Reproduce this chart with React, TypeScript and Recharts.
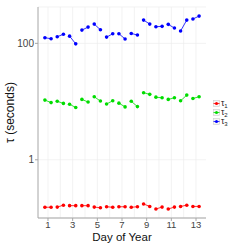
import { LineChart, Line, XAxis, YAxis, CartesianGrid, ReferenceLine } from 'recharts';

// one pair of samples per day (morning / afternoon)
const DAYS = [1, 2, 3, 4, 5, 6, 7, 8, 9, 10, 11, 12, 13];
const HALF = [-0.25, 0.25];

const TAU1 = [
  0.153, 0.153, 0.154, 0.166, 0.163, 0.163, 0.163, 0.163, 0.154, 0.15, 0.156, 0.153, 0.156,
  0.156, 0.153, 0.156, 0.174, 0.158, 0.143, 0.154, 0.143, 0.154, 0.158, 0.166, 0.158, 0.158,
];
const TAU2 = [
  10.6, 9.6, 10.1, 9.3, 9.0, 7.9, 10.9, 9.8, 12.1, 10.2, 9.1, 10.3, 9.4,
  8.1, 10.1, 8.2, 14.2, 13.3, 11.9, 11.6, 10.9, 11.6, 10.3, 12.9, 11.3, 12.1,
];
const TAU3 = [
  125, 120, 130, 143, 133, 98, 169, 190, 214, 171, 128, 146, 146,
  119, 148, 139, 251, 214, 193, 196, 212, 183, 163, 251, 262, 294,
];

const X_TICKS = [1, 3, 5, 7, 9, 11, 13];
const Y_TICKS = [1, 100];

const SERIES = [
  { key: 't1', sub: '1', color: '#ff0000' },
  { key: 't2', sub: '2', color: '#00dd00' },
  { key: 't3', sub: '3', color: '#0000ff' },
];

const data = DAYS.flatMap((d, i) => [
  ...HALF.map((h, j) => ({
    x: d + h,
    t1: TAU1[i * 2 + j],
    t2: TAU2[i * 2 + j],
    t3: TAU3[i * 2 + j],
  })),
  // break the line between days
  { x: d + 0.5, t1: null, t2: null, t3: null },
]);

const GRID = '#ececec';
const BORDER = '#a6a6a6';

function LegendBox() {
  return (
    <svg width={30} height={30} style={{ position: 'absolute', left: 212, top: 99 }}>
      {SERIES.map((s, i) => (
        <g key={s.key} transform={`translate(1, ${1 + i * 9})`}>
          <rect x={0.5} y={0.5} width={6} height={6} fill="#f5f5f5" stroke="#cccccc" strokeWidth={0.6} />
          <line x1={0.5} x2={6.5} y1={3.5} y2={3.5} stroke={s.color} strokeWidth={0.8} />
          <circle cx={3.5} cy={3.5} r={1.5} fill={s.color} />
          <text x={8} y={6} fontSize={8.5} fill="#222">
            τ<tspan fontSize={6} dy={2}>{s.sub}</tspan>
          </text>
        </g>
      ))}
    </svg>
  );
}

export default function App() {
  return (
    <div style={{ position: 'absolute', left: 0, top: 0, width: 245, height: 245, background: '#fff', fontFamily: '"Liberation Sans", Arial, sans-serif' }}>
      <LineChart width={245} height={245} data={data} margin={{ top: 7, right: 39, bottom: 0, left: 0 }}>
        <CartesianGrid horizontal vertical={false} stroke={GRID} strokeWidth={0.7} />
        {DAYS.map((d) => (
          <ReferenceLine key={d} x={d} stroke={GRID} strokeWidth={0.7} />
        ))}
        <XAxis
          dataKey="x"
          type="number"
          domain={[0.19, 13.81]}
          ticks={X_TICKS}
          allowDataOverflow
          height={27}
          tickSize={3}
          tickMargin={0}
          stroke={BORDER}
          tick={{ fill: '#444', fontSize: 9.5 }}
        />
        <XAxis xAxisId="top" orientation="top" height={0} tick={false} tickLine={false} stroke={BORDER} />
        <YAxis
          type="number"
          scale="log"
          domain={[0.1, 421]}
          allowDataOverflow
          ticks={Y_TICKS}
          width={38}
          tickSize={3}
          tickMargin={1}
          stroke={BORDER}
          tick={{ fill: '#444', fontSize: 10 }}
        />
        <YAxis yAxisId="right" orientation="right" width={0} tick={false} tickLine={false} stroke={BORDER} />
        {SERIES.map((s) => (
          <Line
            key={s.key}
            dataKey={s.key}
            stroke={s.color}
            strokeWidth={0.8}
            dot={{ r: 1.8, fill: s.color, stroke: 'none' }}
            activeDot={false}
            connectNulls={false}
            isAnimationActive={false}
          />
        ))}
      </LineChart>
      <svg width={245} height={245} style={{ position: 'absolute', left: 0, top: 0, pointerEvents: 'none' }}>
        <text x={122} y={241} textAnchor="middle" fontSize={11.5} fill="#111">Day of Year</text>
        <text x={10} y={112.5} transform="rotate(-90, 10, 112.5)" textAnchor="middle" dominantBaseline="central" fontSize={12} fill="#111">
          τ (seconds)
        </text>
      </svg>
      <LegendBox />
    </div>
  );
}
